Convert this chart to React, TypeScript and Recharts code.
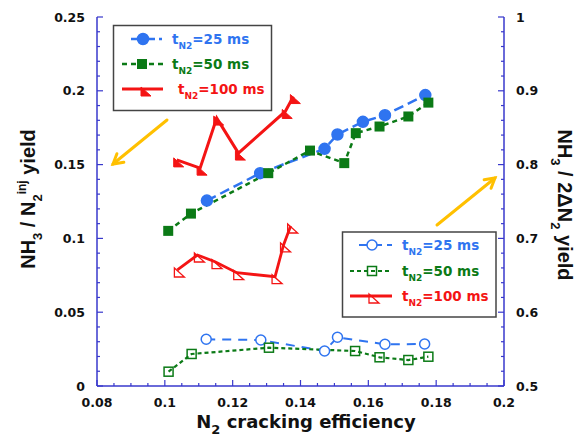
import React from 'react';
import { ComposedChart, Line, XAxis, YAxis } from 'recharts';

// N2 cracking efficiency (x) against the two yields
const blueFilledX = [0.1124, 0.1281, 0.1471, 0.1509, 0.1584, 0.1649, 0.1768];
const blueFilledY = [0.1256, 0.1442, 0.1607, 0.1704, 0.179, 0.1835, 0.1971];
const greenFilledX = [0.101, 0.1077, 0.1305, 0.1428, 0.1529, 0.1563, 0.1633, 0.1718, 0.1777];
const greenFilledY = [0.1051, 0.1168, 0.1442, 0.1595, 0.151, 0.1713, 0.1758, 0.1826, 0.192];
const redFilledX = [0.1035, 0.1104, 0.1153, 0.1217, 0.1355, 0.1379];
const redFilledY = [0.1532, 0.1476, 0.1815, 0.1578, 0.186, 0.1961];

const blueOpenX = [0.1122, 0.1283, 0.1471, 0.1509, 0.1649, 0.1766];
const blueOpenY = [0.5633, 0.5623, 0.5474, 0.566, 0.5565, 0.5569];
const greenOpenX = [0.1011, 0.1079, 0.1307, 0.1561, 0.1633, 0.1718, 0.1777];
const greenOpenY = [0.5194, 0.5434, 0.5519, 0.5474, 0.5389, 0.5352, 0.5397];
const redOpenX = [0.1037, 0.1096, 0.1148, 0.1212, 0.1325, 0.135, 0.1371];
const redOpenY = [0.6572, 0.6775, 0.6684, 0.6535, 0.6481, 0.6911, 0.7168];

const xMajor = [0.08, 0.1, 0.12, 0.14, 0.16, 0.18, 0.2];
const xLabels = ['0.08', '0.1', '0.12', '0.14', '0.16', '0.18', '0.2'];
const xMinor = [0.085, 0.09, 0.095, 0.105, 0.11, 0.115, 0.125, 0.13, 0.135, 0.145, 0.15, 0.155,
  0.165, 0.17, 0.175, 0.185, 0.19, 0.195];
const leftMajor = [0, 0.05, 0.1, 0.15, 0.2, 0.25];
const leftLabels = ['0', '0.05', '0.1', '0.15', '0.2', '0.25'];
const leftMinor = [0.01, 0.02, 0.03, 0.04, 0.06, 0.07, 0.08, 0.09, 0.11, 0.12, 0.13, 0.14,
  0.16, 0.17, 0.18, 0.19, 0.21, 0.22, 0.23, 0.24];
const rightMajor = [0.5, 0.6, 0.7, 0.8, 0.9, 1];
const rightLabels = ['0.5', '0.6', '0.7', '0.8', '0.9', '1'];
const rightMinor = [0.52, 0.54, 0.56, 0.58, 0.62, 0.64, 0.66, 0.68, 0.72, 0.74, 0.76, 0.78,
  0.82, 0.84, 0.86, 0.88, 0.92, 0.94, 0.96, 0.98];

const BLUE = '#2F74F0';
const GREEN = '#0B7A16';
const RED = '#F41414';
const AXIS = '#3838CC';
const ORANGE = '#FFC000';
const FONT_H = '"DejaVu Sans", Verdana, sans-serif';
const FONT_T = '"Liberation Sans", Arial, sans-serif';

const zip = (xs: number[], ys: number[]) => xs.map((x, i) => ({ x, y: ys[i] }));
const sortNum = (a: number[]) => [...a].sort((p, q) => p - q);
const findIdx = (arr: number[], v: number) => arr.findIndex(a => Math.abs(a - v) < 1e-9);

const tickText = { fontFamily: FONT_H, fontWeight: 700, fontSize: 12.5, fill: '#111' };

function xTick(p: any, top = false) {
  const i = findIdx(xMajor, p.payload.value);
  const len = i >= 0 ? 6 : 3;
  return (
    <g>
      <line x1={p.x} x2={p.x} y1={p.y} y2={top ? p.y + len : p.y - len} stroke={AXIS} strokeWidth={1.2} />
      {!top && i >= 0 && (
        <text x={p.x} y={p.y + 20.5} textAnchor="middle" style={tickText}>{xLabels[i]}</text>
      )}
    </g>
  );
}

function leftTick(p: any) {
  const i = findIdx(leftMajor, p.payload.value);
  return (
    <g>
      <line x1={p.x} x2={p.x + (i >= 0 ? 6 : 3)} y1={p.y} y2={p.y} stroke={AXIS} strokeWidth={1.2} />
      {i >= 0 && <text x={p.x - 12} y={p.y} dy="0.36em" textAnchor="end" style={tickText}>{leftLabels[i]}</text>}
    </g>
  );
}

function rightTick(p: any) {
  const i = findIdx(rightMajor, p.payload.value);
  return (
    <g>
      <line x1={p.x} x2={p.x - (i >= 0 ? 6 : 3)} y1={p.y} y2={p.y} stroke={AXIS} strokeWidth={1.2} />
      {i >= 0 && <text x={p.x + 12} y={p.y} dy="0.36em" textAnchor="start" style={tickText}>{rightLabels[i]}</text>}
    </g>
  );
}

// markers
function marker(kind: string, cx: number, cy: number, color: string, open: boolean, key?: any) {
  if (kind === 'circle')
    return <circle key={key} cx={cx} cy={cy} r={open ? 5 : 5.5} fill={open ? '#fff' : color} stroke={color} strokeWidth={1.5} />;
  if (kind === 'square')
    return open
      ? <rect key={key} x={cx - 4.5} y={cy - 4.5} width={9} height={9} fill="none" stroke={color} strokeWidth={1.5} />
      : <rect key={key} x={cx - 5} y={cy - 5} width={10} height={10} fill={color} />;
  return (
    <polygon key={key} points={`${cx - 3},${cy - 2} ${cx - 3},${cy + 7} ${cx + 7},${cy + 7}`}
      fill={open ? 'none' : color} stroke={color} strokeWidth={open ? 1.3 : 1} />
  );
}

const dotOf = (kind: string, color: string, open: boolean) => (p: any) =>
  marker(kind, p.cx, p.cy, color, open, p.index);

function LegendRow({ x0, x1, y, color, dash, w, kind, open, mx, tx, label }: any) {
  return (
    <g>
      <line x1={x0} x2={x1} y1={y} y2={y} stroke={color} strokeWidth={w} strokeDasharray={dash} />
      {marker(kind, mx, y, color, open)}
      <text x={tx} y={y + 5} style={{ fontFamily: FONT_H, fontWeight: 700, fontSize: 13.5, fill: color }}>
        t<tspan dy={5} fontSize={9}>N2</tspan><tspan dy={-5}>{label}</tspan>
      </text>
    </g>
  );
}

function arrow(x1: number, y1: number, x2: number, y2: number) {
  const dx = x1 - x2, dy = y1 - y2;
  const d = Math.hypot(dx, dy);
  const ux = dx / d, uy = dy / d;
  const L = 11, c = Math.cos(Math.PI / 6), s = Math.sin(Math.PI / 6);
  const a = [x2 + L * (ux * c - uy * s), y2 + L * (ux * s + uy * c)];
  const b = [x2 + L * (ux * c + uy * s), y2 + L * (-ux * s + uy * c)];
  return (
    <g stroke={ORANGE} strokeWidth={3} fill="none" strokeLinecap="round">
      <line x1={x1} y1={y1} x2={x2} y2={y2} />
      <polyline points={`${a[0]},${a[1]} ${x2},${y2} ${b[0]},${b[1]}`} />
    </g>
  );
}

export default function App() {
  const axisLine = { stroke: AXIS, strokeWidth: 1.5 };
  return (
    <div style={{ position: 'relative', width: 580, height: 439, background: '#fff' }}>
      <style>{'body{margin:0}'}</style>
      <ComposedChart width={580} height={439} margin={{ top: 17, right: 0, bottom: 0, left: 0 }}>
        <XAxis xAxisId="b" type="number" dataKey="x" domain={[0.08, 0.2]} allowDataOverflow
          ticks={sortNum([...xMajor, ...xMinor])} interval={0} height={53} tickSize={0} tickMargin={0}
          tickLine={false} axisLine={axisLine} tick={(p: any) => xTick(p)} />
        <XAxis xAxisId="t" orientation="top" type="number" dataKey="x" domain={[0.08, 0.2]} allowDataOverflow
          ticks={sortNum([...xMajor, ...xMinor])} interval={0} height={0} tickSize={0} tickMargin={0}
          tickLine={false} axisLine={axisLine} tick={(p: any) => xTick(p, true)} />
        <YAxis yAxisId="l" type="number" domain={[0, 0.25]} allowDataOverflow width={97}
          ticks={sortNum([...leftMajor, ...leftMinor])} interval={0} tickSize={0} tickMargin={0}
          tickLine={false} axisLine={axisLine} tick={leftTick} />
        <YAxis yAxisId="r" orientation="right" type="number" domain={[0.5, 1]} allowDataOverflow width={76}
          ticks={sortNum([...rightMajor, ...rightMinor])} interval={0} tickSize={0} tickMargin={0}
          tickLine={false} axisLine={axisLine} tick={rightTick} />

        <Line xAxisId="b" yAxisId="l" data={zip(blueFilledX, blueFilledY)} dataKey="y" stroke={BLUE}
          strokeWidth={2.5} strokeDasharray="10 5" dot={dotOf('circle', BLUE, false)} activeDot={false} isAnimationActive={false} />
        <Line xAxisId="b" yAxisId="l" data={zip(greenFilledX, greenFilledY)} dataKey="y" stroke={GREEN}
          strokeWidth={2.5} strokeDasharray="5 4" dot={dotOf('square', GREEN, false)} activeDot={false} isAnimationActive={false} />
        <Line xAxisId="b" yAxisId="l" data={zip(redFilledX, redFilledY)} dataKey="y" stroke={RED}
          strokeWidth={3} dot={dotOf('tri', RED, false)} activeDot={false} isAnimationActive={false} />

        <Line xAxisId="b" yAxisId="r" data={zip(blueOpenX, blueOpenY)} dataKey="y" stroke={BLUE}
          strokeWidth={2} strokeDasharray="9 7" dot={dotOf('circle', BLUE, true)} activeDot={false} isAnimationActive={false} />
        <Line xAxisId="b" yAxisId="r" data={zip(greenOpenX, greenOpenY)} dataKey="y" stroke={GREEN}
          strokeWidth={2.2} strokeDasharray="4 3" dot={dotOf('square', GREEN, true)} activeDot={false} isAnimationActive={false} />
        <Line xAxisId="b" yAxisId="r" data={zip(redOpenX, redOpenY)} dataKey="y" stroke={RED}
          strokeWidth={2.8} dot={dotOf('tri', RED, true)} activeDot={false} isAnimationActive={false} />
      </ComposedChart>

      <svg width={580} height={439} style={{ position: 'absolute', left: 0, top: 0, pointerEvents: 'none' }}>
        {/* filled markers legend (left axis) */}
        <rect x={113.5} y={25.5} width={158} height={85} fill="#fff" stroke="#444" strokeWidth={1.5} />
        <LegendRow x0={131} x1={162} y={39} color={BLUE} dash="10 4" w={2.5} kind="circle" open={false} mx={143} tx={172} label="=25 ms" />
        <LegendRow x0={122} x1={163} y={64} color={GREEN} dash="5 4" w={2.5} kind="square" open={false} mx={142} tx={172} label="=50 ms" />
        <LegendRow x0={122} x1={163} y={89} color={RED} w={3} kind="tri" open={false} mx={144} tx={178} label="=100 ms" />

        {/* open markers legend (right axis) */}
        <rect x={342.5} y={232} width={153.5} height={85} fill="#fff" stroke="#444" strokeWidth={1.5} />
        <LegendRow x0={359} x1={392} y={245} color={BLUE} dash="9 5" w={2} kind="circle" open mx={372} tx={402} label="=25 ms" />
        <LegendRow x0={350} x1={392} y={271} color={GREEN} dash="4 3" w={2.2} kind="square" open mx={372} tx={402} label="=50 ms" />
        <LegendRow x0={350} x1={392} y={296} color={RED} w={2.8} kind="tri" open mx={372} tx={402} label="=100 ms" />

        {arrow(167, 120, 113, 164)}
        {arrow(437, 225, 495, 178)}

        <text x={306} y={428} textAnchor="middle" style={{ fontFamily: FONT_H, fontWeight: 700, fontSize: 18, fill: '#111' }}>
          N<tspan dy={6} fontSize={13}>2</tspan><tspan dy={-6}> cracking efficiency</tspan>
        </text>
        <text transform="translate(35,199) rotate(-90)" textAnchor="middle"
          style={{ fontFamily: FONT_T, fontWeight: 700, fontSize: 20, fill: '#111' }}>
          NH<tspan dy={7} fontSize={13}>3</tspan><tspan dy={-7}> / N</tspan><tspan dy={7} fontSize={13}>2</tspan>
          <tspan dy={-16} fontSize={12}>inj</tspan><tspan dy={9}> yield</tspan>
        </text>
        <text transform="translate(558,205) rotate(90)" textAnchor="middle"
          style={{ fontFamily: FONT_T, fontWeight: 700, fontSize: 20, fill: '#111' }}>
          NH<tspan dy={7} fontSize={13}>3</tspan><tspan dy={-7}> / 2ΔN</tspan><tspan dy={7} fontSize={13}>2</tspan>
          <tspan dy={-7}> yield</tspan>
        </text>
      </svg>
    </div>
  );
}
